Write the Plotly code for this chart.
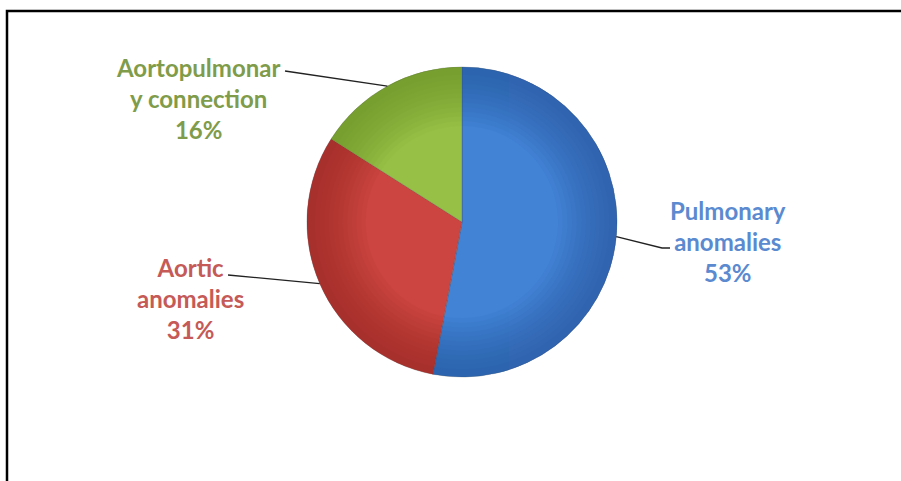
import math
import plotly.graph_objects as go

# Category shares (percent) and styling per slice
categories = ["Pulmonary anomalies", "Aortic anomalies", "Aortopulmonary connection"]
shares = [53, 31, 16]
label_lines = [
    ["Pulmonary", "anomalies"],
    ["Aortic", "anomalies"],
    ["Aortopulmonar", "y connection"],
]
slice_colors = ["#4283d6", "#cd4540", "#97c146"]
edge_colors = ["#24589c", "#962824", "#688f28"]
text_colors = ["#5b8ad0", "#c55a57", "#7f9c4b"]

W, H = 901, 481
cx, cy, r = 462, 222, 155

dom_x = [(cx - r) / W, (cx + r) / W]
dom_y = [1 - (cy + r) / H, 1 - (cy - r) / H]

fig = go.Figure()

# main pie
fig.add_trace(go.Pie(
    labels=categories, values=shares, sort=False, direction="clockwise",
    rotation=0, domain=dict(x=dom_x, y=dom_y),
    marker=dict(colors=slice_colors, line=dict(color="rgba(60,60,60,0.45)", width=0.6)),
    textinfo="none", hoverinfo="label+percent", showlegend=False,
))
# stacked translucent rims darken the outer edge for a rounded look
for k in range(12):
    hole = 0.62 + k * 0.03
    fig.add_trace(go.Pie(
        labels=categories, values=shares, sort=False, direction="clockwise",
        rotation=0, domain=dict(x=dom_x, y=dom_y), hole=hole, opacity=0.07,
        marker=dict(colors=edge_colors, line=dict(width=0)),
        textinfo="none", hoverinfo="skip", showlegend=False,
    ))

# label text positions (pixels) and leader-line elbows
label_pos = [(728, 241), (190, 298), (198, 98)]
line_ends = [[(662, 248), (670, 248)], [(228, 275)], [(285, 71)]]

shapes = []
annotations = []
total = sum(shares)
cum = 0
for i, v in enumerate(shares):
    mid = (cum + v / 2) / total * 2 * math.pi
    cum += v
    ax = cx + r * math.sin(mid)
    ay = cy - r * math.cos(mid)
    pts = [(ax, ay)] + line_ends[i]
    path = "M " + " L ".join(f"{x / W:.5f},{1 - y / H:.5f}" for x, y in pts)
    shapes.append(dict(type="path", path=path, xref="paper", yref="paper",
                       line=dict(color="#222222", width=1.3)))
    pct = round(v / total * 100)
    txt = "<br>".join(label_lines[i] + [f"{pct}%"])
    lx, ly = label_pos[i]
    annotations.append(dict(
        text=txt, x=lx / W, y=1 - ly / H, xref="paper", yref="paper",
        showarrow=False, xanchor="center", yanchor="middle", align="center",
        font=dict(family="Lato", size=24, color=text_colors[i], weight="bold"),
    ))

# outer frame (top and left edges)
shapes.append(dict(type="path", path=f"M {7/W},0 L {7/W},{1-11/H} L 1.01,{1-11/H}",
                   xref="paper", yref="paper", line=dict(color="black", width=2.5)))

fig.update_layout(
    width=W, height=H, margin=dict(l=0, r=0, t=0, b=0),
    paper_bgcolor="white", plot_bgcolor="white",
    shapes=shapes, annotations=annotations,
)

fig.write_html("out.html")
